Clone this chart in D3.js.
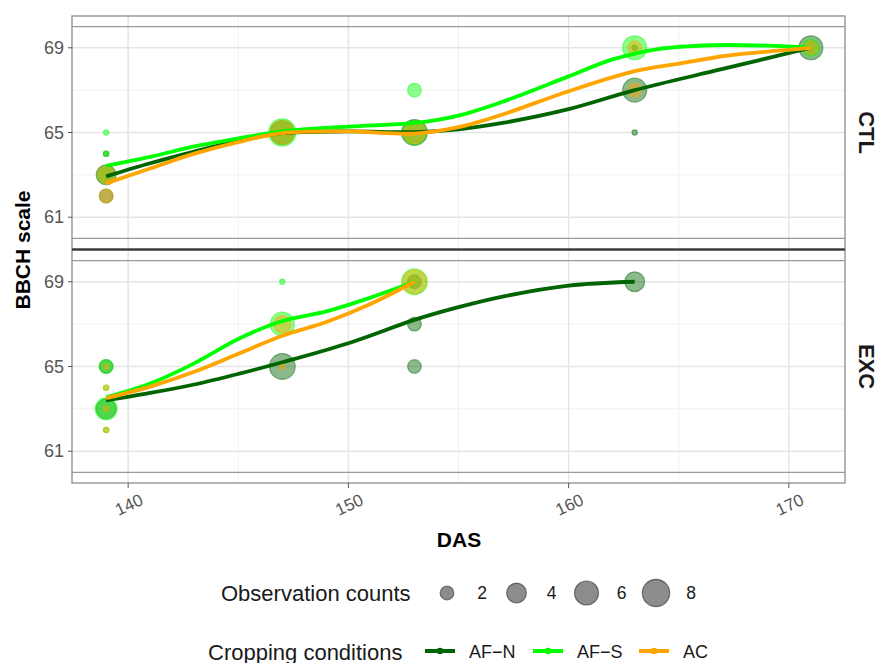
<!DOCTYPE html>
<html><head><meta charset="utf-8">
<script src="https://cdn.jsdelivr.net/npm/d3@7"></script>
<style>body{margin:0;background:#fff;} svg{display:block;font-family:"Liberation Sans",Arial,Helvetica,sans-serif;}</style>
</head><body>
<svg id="chart" width="882" height="663"></svg>
<script>
// ---------- data ----------
const conditions = ["AF−N", "AF−S", "AC"];
const panels = ["CTL", "EXC"];
const xTicks = [140, 150, 160, 170];
const xMinor = [145, 155, 165];
const yTicks = [61, 65, 69];
const yMinor = [63, 67];
const refLines = [60, 70];
const sizeBreaks = [2, 4, 6, 8];

// observations: [DAS, BBCH, count]
const ctlAFN = [[139,63,4],[139,64,1],[139,62,2],[147,65,6],[153,65,7],[163,69,1],[163,67,6],[163,65,1],[171,69,6]];
const ctlAFS = [[139,65,1],[139,64,1],[139,63,3],[147,65,8],[153,65,6],[153,67,2],[163,69,6],[171,69,3]];
const ctlAC  = [[139,63,3],[139,62,2],[147,65,6],[153,65,5],[163,69,2],[163,67,2],[171,69,2]];
const excAFN = [[139,65,2],[139,63,4],[147,65,7],[153,69,2],[153,67,2],[153,65,2],[163,69,4]];
const excAFS = [[139,65,2],[139,64,1],[139,63,5],[139,62,1],[147,69,1],[147,67,6],[153,69,7]];
const excAC  = [[139,65,1],[139,64,1],[139,63,1],[139,62,1],[147,67,3],[147,65,1],[153,69,6]];

// smoothed trend: [DAS, fitted BBCH]
const ctlAFNfit = [[139,62.93],[141,63.55],[143,64.1],[145,64.6],[147,64.97],[150,65.05],[153,65.02],[155,65.15],[157,65.45],[160,66.1],[163,67.0],[167,68.0],[171,69.0]];
const ctlAFSfit = [[139,63.43],[141,63.85],[143,64.34],[145,64.72],[147,65.05],[150,65.28],[153,65.45],[155,65.8],[157,66.45],[160,67.65],[162,68.45],[164,68.93],[166.5,69.12],[169,69.1],[171,69.0]];
const ctlACfit  = [[139,62.6],[141,63.3],[143,64.0],[145,64.55],[147,64.97],[150,65.05],[153,64.95],[155,65.25],[157,65.85],[160,66.95],[163,67.9],[165,68.25],[167,68.6],[169,68.82],[171,69.0]];
const excAFNfit = [[139,63.4],[141,63.75],[143,64.15],[145,64.65],[147,65.2],[150,66.1],[153,67.2],[155,67.8],[157,68.3],[160,68.82],[163,69.0]];
const excAFSfit = [[139,63.55],[141,64.2],[143,65.15],[145,66.3],[147,67.15],[149,67.6],[151,68.25],[153,69.0]];
const excACfit  = [[139,63.5],[141,64.05],[143,64.75],[145,65.6],[147,66.45],[149,67.1],[151,67.95],[153,69.0]];

// ---------- styles ----------
const colors = {"AF−N": "#006400", "AF−S": "#00ff00", "AC": "#ffa500"};
const pointData = {CTL: [ctlAFN, ctlAFS, ctlAC], EXC: [excAFN, excAFS, excAC]};
const fitData = {CTL: [ctlAFNfit, ctlAFSfit, ctlACfit], EXC: [excAFNfit, excAFSfit, excACfit]};

const svg = d3.select("#chart");
const L = 72, R = 845, panelH = 233;
const panelTops = [16, 250];

const x = d3.scaleLinear().domain([137.45, 172.55]).range([L, R]);
const allN = [].concat(...Object.values(pointData).flat()).map(d => d[2]);
const nExt = d3.extent(allN);
const rLin = d3.scaleLinear().domain([0, 1]).range([3.3, 14.3]);
const rOf = n => rLin(Math.sqrt((n - nExt[0]) / (nExt[1] - nExt[0])));

const lineGen = (y) => d3.line().x(d => x(d[0])).y(d => y(d[1])).curve(d3.curveCatmullRom.alpha(0.5));

panels.forEach((p, i) => {
  const top = panelTops[i];
  const y = d3.scaleLinear().domain([59.5, 70.5]).range([top + panelH, top]);
  const g = svg.append("g");
  g.selectAll(".ymin").data(yMinor).join("line")
    .attr("x1", L).attr("x2", R).attr("y1", d => y(d)).attr("y2", d => y(d))
    .attr("stroke", "#f0f0f0").attr("stroke-width", 1);
  g.selectAll(".xmin").data(xMinor).join("line")
    .attr("x1", d => x(d)).attr("x2", d => x(d)).attr("y1", top).attr("y2", top + panelH)
    .attr("stroke", "#f0f0f0").attr("stroke-width", 1);
  g.selectAll(".ymaj").data(yTicks).join("line")
    .attr("x1", L).attr("x2", R).attr("y1", d => y(d)).attr("y2", d => y(d))
    .attr("stroke", "#e5e5e5").attr("stroke-width", 1.5);
  g.selectAll(".xmaj").data(xTicks).join("line")
    .attr("x1", d => x(d)).attr("x2", d => x(d)).attr("y1", top).attr("y2", top + panelH)
    .attr("stroke", "#e5e5e5").attr("stroke-width", 1.5);
  g.selectAll(".ref").data(refLines).join("line")
    .attr("x1", L).attr("x2", R).attr("y1", d => y(d)).attr("y2", d => y(d))
    .attr("stroke", "#9a9a9a").attr("stroke-width", 1.3);
  conditions.forEach((c, k) => {
    g.append("g").selectAll("circle").data(pointData[p][k]).join("circle")
      .attr("cx", d => x(d[0])).attr("cy", d => y(d[1]))
      .attr("r", d => rOf(d[2]) - 0.6)
      .attr("fill", colors[c]).attr("fill-opacity", 0.45)
      .attr("stroke", colors[c]).attr("stroke-opacity", 0.45).attr("stroke-width", 1.2);
  });
  conditions.forEach((c, k) => {
    g.append("path").datum(fitData[p][k])
      .attr("d", lineGen(y))
      .attr("fill", "none").attr("stroke", colors[c]).attr("stroke-width", 3.8);
  });
  g.append("rect").attr("x", L).attr("y", top).attr("width", R - L).attr("height", panelH)
    .attr("fill", "none").attr("stroke", "#8c8c8c").attr("stroke-width", 1.3);
  g.selectAll(".yt").data(yTicks).join("line")
    .attr("x1", L - 4).attr("x2", L).attr("y1", d => y(d)).attr("y2", d => y(d))
    .attr("stroke", "#555").attr("stroke-width", 1);
  g.selectAll(".yl").data(yTicks).join("text")
    .attr("x", L - 8).attr("y", d => y(d)).attr("text-anchor", "end")
    .attr("dominant-baseline", "central").attr("font-size", 18).attr("fill", "#555")
    .text(d => d);
  g.append("text").attr("transform", `translate(866,${top + panelH / 2}) rotate(90)`)
    .attr("text-anchor", "middle").attr("dominant-baseline", "central")
    .attr("font-size", 22).attr("font-weight", "bold").attr("fill", "#1a1a1a").text(p);
});

svg.append("line").attr("x1", L).attr("x2", R).attr("y1", 249.5).attr("y2", 249.5)
  .attr("stroke", "#333").attr("stroke-width", 2);

const bottom = panelTops[1] + panelH;
svg.selectAll(".xt").data(xTicks).join("line")
  .attr("x1", d => x(d)).attr("x2", d => x(d)).attr("y1", bottom).attr("y2", bottom + 5)
  .attr("stroke", "#555").attr("stroke-width", 1);
svg.selectAll(".xl").data(xTicks).join("text")
  .attr("transform", d => `translate(${x(d) + 1},${bottom + 22}) rotate(-25)`)
  .attr("text-anchor", "middle").attr("dominant-baseline", "central")
  .attr("font-size", 17).attr("fill", "#555").text(d => d);

svg.append("text").attr("x", 459).attr("y", 539).attr("text-anchor", "middle")
  .attr("dominant-baseline", "central").attr("font-size", 21).attr("font-weight", "bold")
  .attr("fill", "#000").text("DAS");
svg.append("text").attr("transform", "translate(22,250) rotate(-90)").attr("text-anchor", "middle")
  .attr("dominant-baseline", "central").attr("font-size", 21).attr("font-weight", "bold")
  .attr("fill", "#000").text("BBCH scale");

const lg1 = svg.append("g");
lg1.append("text").attr("x", 221).attr("y", 593).attr("dominant-baseline", "central")
  .attr("font-size", 22).attr("fill", "#1a1a1a").text("Observation counts");
const sizeX = [447, 516.5, 586.5, 656];
lg1.selectAll("circle").data(sizeBreaks).join("circle")
  .attr("cx", (d, i) => sizeX[i]).attr("cy", 593).attr("r", d => rOf(d) - 0.6)
  .attr("fill", "#000").attr("fill-opacity", 0.45)
  .attr("stroke", "#000").attr("stroke-opacity", 0.45).attr("stroke-width", 1.2);
lg1.selectAll(".sl").data(sizeBreaks).join("text")
  .attr("x", (d, i) => sizeX[i] + 35).attr("y", 593).attr("text-anchor", "middle")
  .attr("dominant-baseline", "central").attr("font-size", 17.5).attr("fill", "#1a1a1a").text(d => d);

const lg2 = svg.append("g");
lg2.append("text").attr("x", 208).attr("y", 652).attr("dominant-baseline", "central")
  .attr("font-size", 22).attr("fill", "#1a1a1a").text("Cropping conditions");
const keyX = [425, 533, 639];
conditions.forEach((c, i) => {
  lg2.append("line").attr("x1", keyX[i]).attr("x2", keyX[i] + 30).attr("y1", 651).attr("y2", 651)
    .attr("stroke", colors[c]).attr("stroke-width", 4);
  lg2.append("circle").attr("cx", keyX[i] + 15).attr("cy", 651).attr("r", 3.3)
    .attr("fill", colors[c]);
  lg2.append("text").attr("x", keyX[i] + 44).attr("y", 652).attr("dominant-baseline", "central")
    .attr("font-size", 18).attr("fill", "#1a1a1a").text(c);
});
</script>
</body></html>
